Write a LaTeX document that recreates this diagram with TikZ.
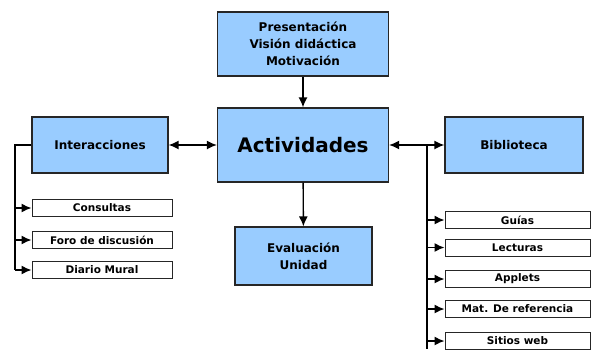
\documentclass[tikz,border=0pt]{standalone}
\usepackage{fontspec}
\setmainfont{DejaVu Sans}
\usetikzlibrary{arrows.meta}

\definecolor{HeadColor}{rgb}{0.6,0.8,1.0}
\tikzstyle{base}=[rectangle,
                    draw=black!85,
                    line width=1.2pt,
                    inner sep=0pt,
                    align=center,
                    text centered]
\tikzstyle{head}=[base, fill={HeadColor},
                    font=\fontsize{12}{17}\selectfont\bfseries]
\tikzstyle{item}=[base, fill=white, line width=1pt,
                    minimum height=17pt,
                    font=\fontsize{10.5}{12}\selectfont\bfseries]
\tikzstyle{leftitem}=[item, minimum width=140pt]
\tikzstyle{rightitem}=[item, minimum width=145pt]

\begin{document}
\begin{tikzpicture}[x=1pt, y=-1pt, line width=1.4pt,
                        >={Latex[length=10pt, width=9pt]}]
    \useasboundingbox (0,0) rectangle (592,349);

    \node at (303.0,  44.0) (presentacion)  [head, minimum width=171pt, minimum height=64pt] {Presentación\\Visión didáctica\\Motivación};
    \node at (303.0, 145.0) (actividades)   [head, minimum width=171pt, minimum height=74pt, font=\fontsize{20}{24}\selectfont\bfseries] {Actividades};
    \node at (100.0, 145.0) (interacciones) [head, minimum width=136pt, minimum height=56pt] {Interacciones};
    \node at (514.0, 145.0) (biblioteca)    [head, minimum width=138pt, minimum height=56pt] {Biblioteca};
    \node at (303.5, 256.0) (evaluacion)    [head, minimum width=137pt, minimum height=58pt] {Evaluación\\Unidad};

    \node at (102.0, 208.0) (consultas)     [leftitem]  {Consultas};
    \node at (102.0, 240.0) (foro)          [leftitem]  {Foro de discusión};
    \node at (102.0, 270.0) (diario)        [leftitem]  {Diario Mural};

    \node at (517.5, 220.0) (guias)         [rightitem] {Guías};
    \node at (517.5, 247.5) (lecturas)      [rightitem] {Lecturas};
    \node at (517.5, 279.0) (applets)       [rightitem] {Applets};
    \node at (517.5, 309.0) (matref)        [rightitem] {Mat. De referencia};
    \node at (517.5, 341.0) (sitios)        [rightitem] {Sitios web};

    \coordinate (lbus_top) at ( 15.0, 145.0);
    \coordinate (lbus_bot) at ( 15.0, 270.0);
    \coordinate (rbus_top) at (427.0, 145.0);
    \coordinate (rbus_bot) at (427.0, 349.0);

     \draw[->]  (presentacion)  -- (actividades);
     \draw[->]  (actividades)   -- (evaluacion);
     \draw[<->] (interacciones) -- (actividades);
     \draw[<-]  (actividades)   -- (rbus_top);
     \draw[->]  (rbus_top)      -- (biblioteca);

     \draw (interacciones) -- (lbus_top) -- (lbus_bot);
     \draw[->] (lbus_top |- consultas) -- (consultas);
     \draw[->] (lbus_top |- foro)      -- (foro);
     \draw[->] (lbus_top |- diario)    -- (diario);

     \draw (rbus_top) -- (rbus_bot);
     \draw[->] (rbus_top |- guias)     -- (guias);
     \draw[->] (rbus_top |- lecturas)  -- (lecturas);
     \draw[->] (rbus_top |- applets)   -- (applets);
     \draw[->] (rbus_top |- matref)    -- (matref);
     \draw[->] (rbus_top |- sitios)    -- (sitios);
  \end{tikzpicture}
\end{document}
